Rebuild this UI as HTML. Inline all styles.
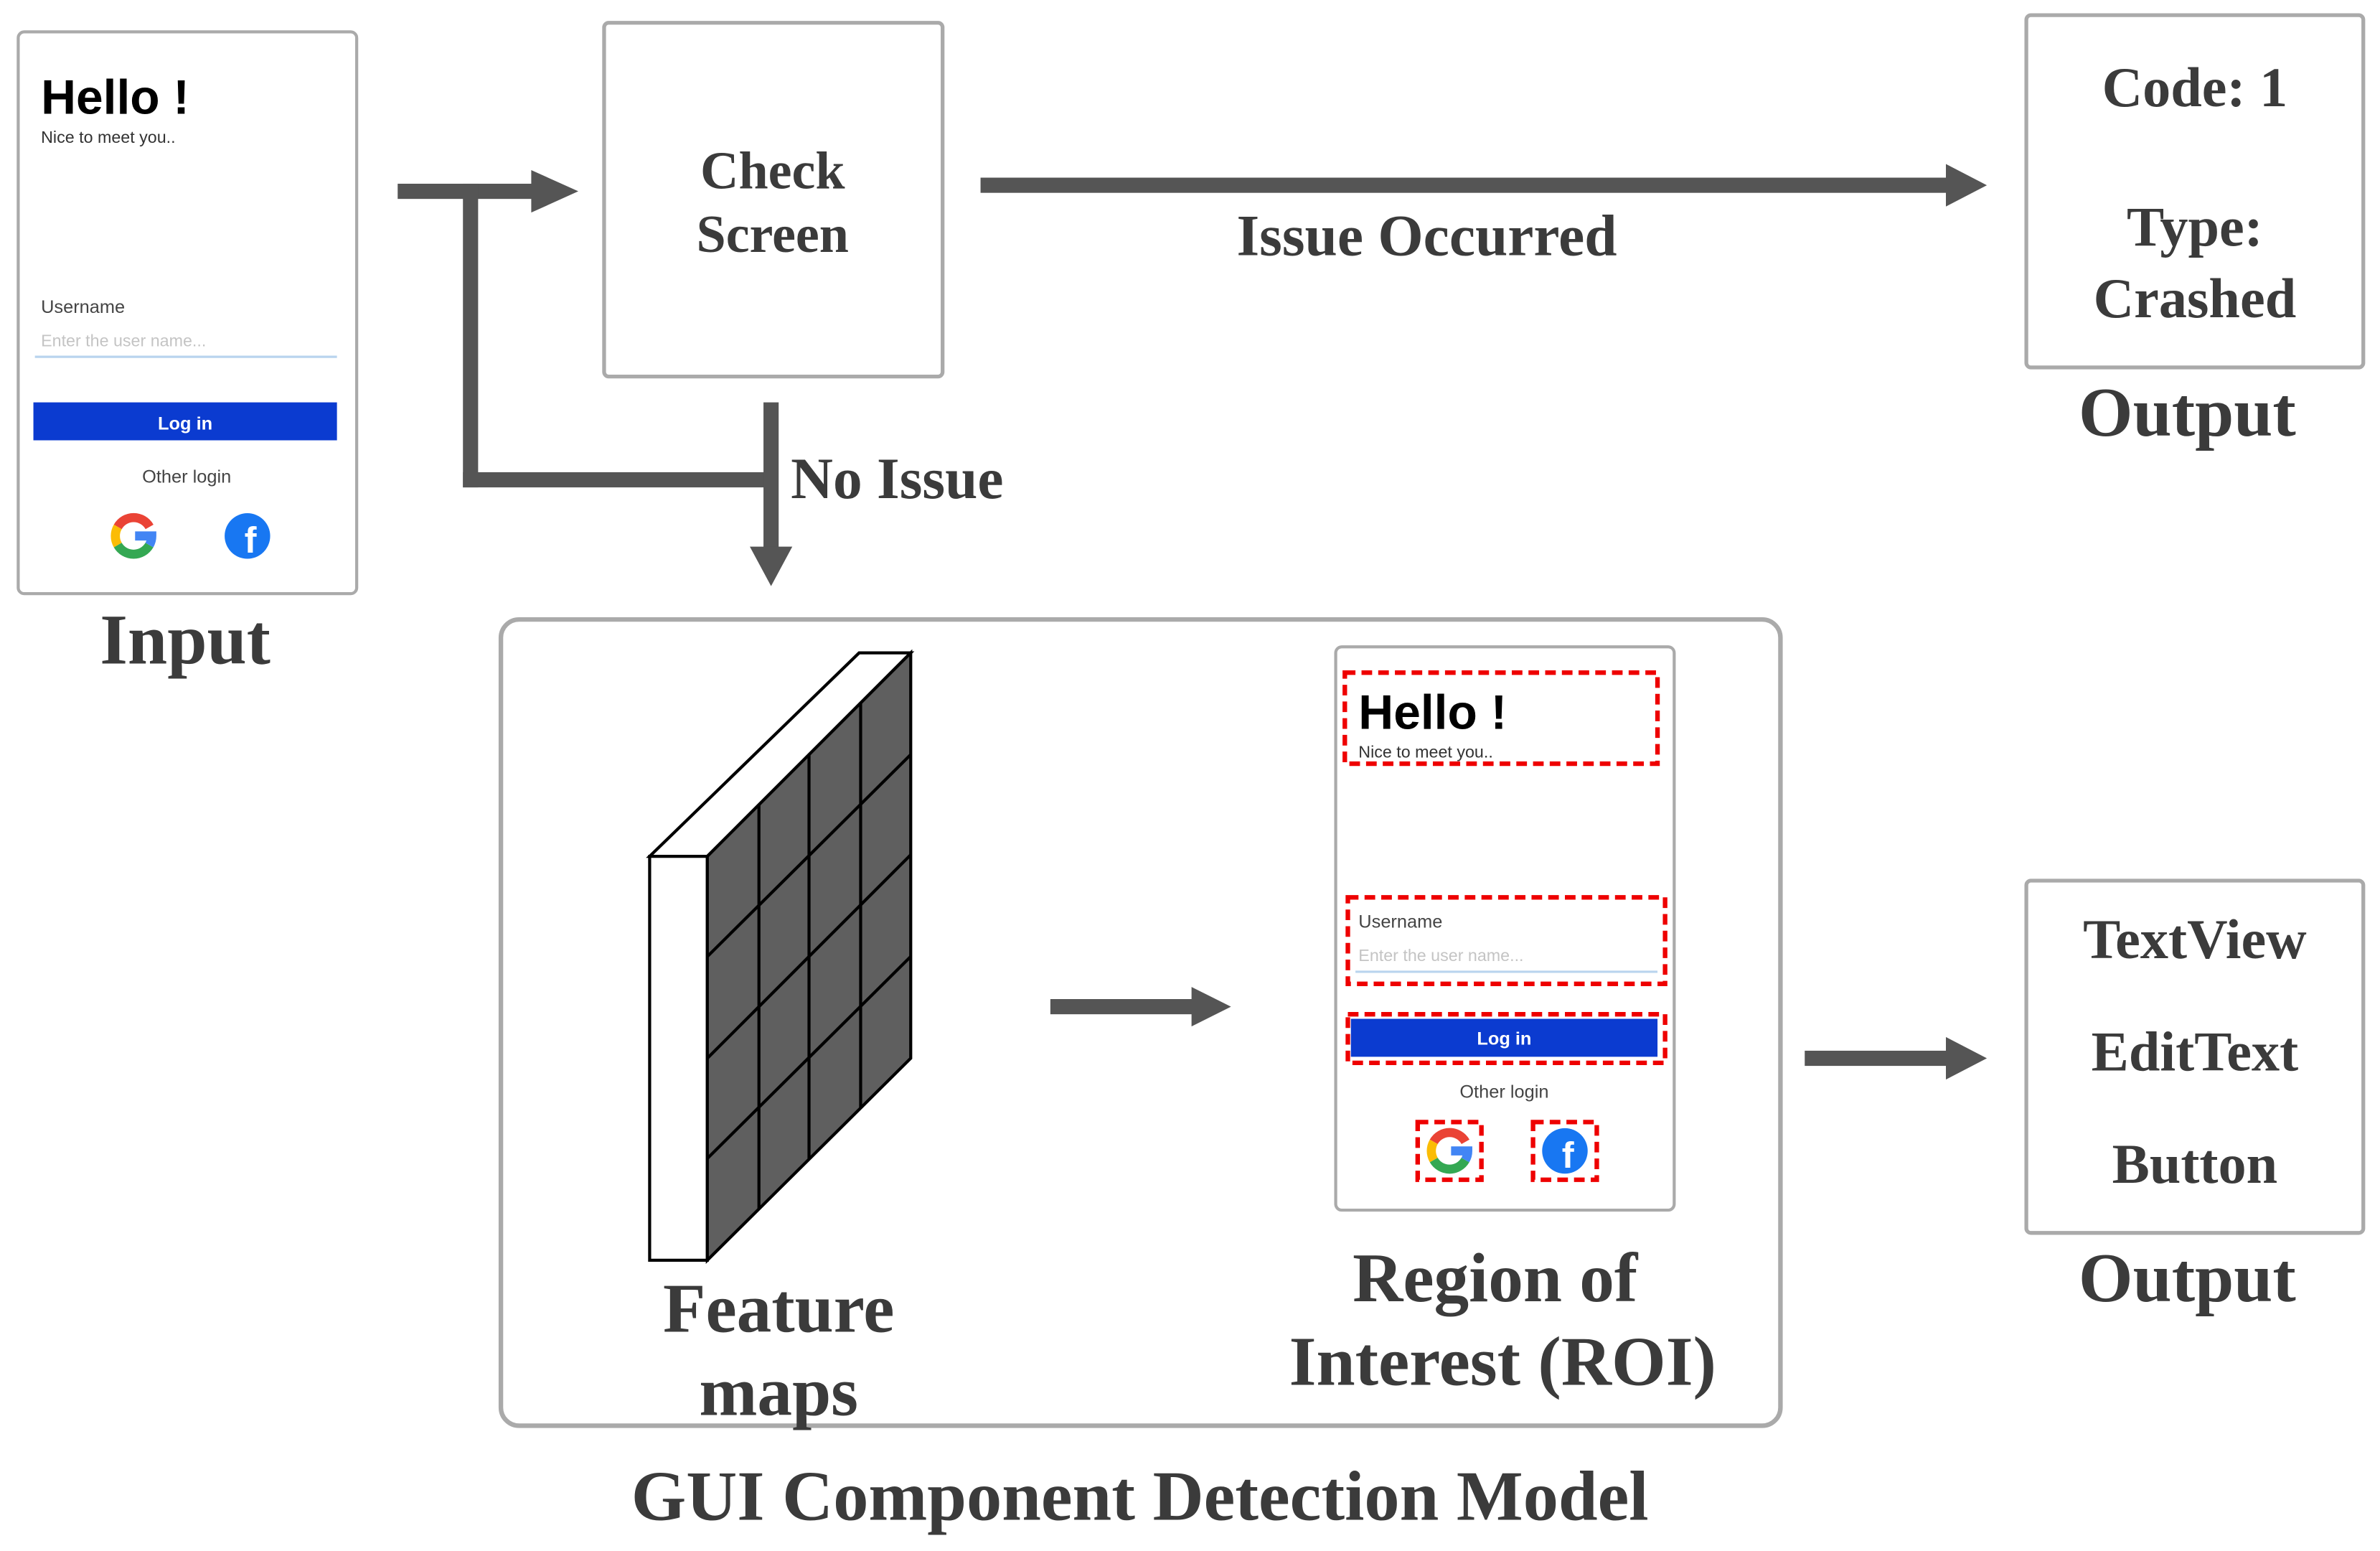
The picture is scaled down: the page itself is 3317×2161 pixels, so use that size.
<!DOCTYPE html>
<html><head><meta charset="utf-8"><style>
html,body{margin:0;padding:0;background:#fff;}
svg{display:block;}
.s{font-family:"Liberation Serif",serif;font-weight:bold;fill:#3b3b3b;}
.a{font-family:"Liberation Sans",sans-serif;}
</style></head><body>
<svg width="3317" height="2161" viewBox="0 0 1568 1021.5" preserveAspectRatio="none" xmlns="http://www.w3.org/2000/svg">
<defs>
<g id="goog">
<path d="M10.5,-6 A12,12 0 0 0 -10.4,-6" stroke="#ea4335" stroke-width="6" fill="none"/>
<path d="M-10.4,-6 A12,12 0 0 0 -10.4,6" stroke="#fbbc05" stroke-width="6" fill="none"/>
<path d="M-10.4,6 A12,12 0 0 0 10.4,6" stroke="#34a853" stroke-width="6" fill="none"/>
<path d="M10.4,6 A12,12 0 0 0 12,0 L1,0" stroke="#4285f4" stroke-width="6" fill="none"/>
</g>
<g id="fb">
<circle r="15" fill="#1877f2"/>
<text x="2" y="11" text-anchor="middle" font-family="Liberation Sans,sans-serif" font-weight="bold" font-size="24" fill="#fff">f</text>
</g>
</defs>
<rect width="1568" height="1021.5" fill="#fff"/>

<rect x="12" y="21" width="223" height="370" rx="4" fill="#fff" stroke="#aaa" stroke-width="2"/>
<text x="27" y="75" class="a" font-size="32" font-weight="bold" fill="#000">Hello !</text>
<text x="27" y="94" class="a" font-size="11" fill="#333">Nice to meet you..</text>
<text x="27" y="206" class="a" font-size="12" fill="#444">Username</text>
<text x="27" y="228" class="a" font-size="11" fill="#c4c4c4">Enter the user name...</text>
<line x1="23" y1="235" x2="222" y2="235" stroke="#b9d4ee" stroke-width="1.5"/>
<rect x="22" y="265" width="200" height="25" fill="#0b3bd0"/>
<text x="122" y="283" text-anchor="middle" class="a" font-size="12" font-weight="bold" fill="#fff">Log in</text>
<text x="123" y="318" text-anchor="middle" class="a" font-size="12" fill="#444">Other login</text>
<use href="#goog" x="88" y="353"/>
<use href="#fb" x="163" y="353"/>
<text x="122" y="437" text-anchor="middle" class="s" font-size="47">Input</text>

<g fill="#555">
<rect x="262" y="121" width="90" height="10"/>
<polygon points="350,112 381,126 350,140"/>
<rect x="305" y="121" width="10" height="200"/>
<rect x="305" y="311" width="205" height="10"/>
<rect x="503" y="265" width="10" height="97"/>
<polygon points="494,360 522,360 508,386"/>
<rect x="646" y="117" width="638" height="10"/>
<polygon points="1282,108 1309,122 1282,136"/>
<rect x="692" y="658" width="95" height="10"/>
<polygon points="785,650 811,663 785,676"/>
<rect x="1189" y="692" width="95" height="10"/>
<polygon points="1282,683 1309,697 1282,711"/>
</g>

<rect x="398" y="15" width="223" height="233" rx="3" fill="#fff" stroke="#aaa" stroke-width="2.5"/>
<text x="509" y="124" text-anchor="middle" class="s" font-size="35">Check</text>
<text x="509" y="166" text-anchor="middle" class="s" font-size="35">Screen</text>
<text x="940" y="168" text-anchor="middle" class="s" font-size="38.5">Issue Occurred</text>
<text x="521" y="328" class="s" font-size="38.5">No Issue</text>

<rect x="1335" y="10" width="222" height="232" rx="3" fill="#fff" stroke="#aaa" stroke-width="2.5"/>
<text x="1446" y="70" text-anchor="middle" class="s" font-size="37">Code: 1</text>
<text x="1446" y="162" text-anchor="middle" class="s" font-size="37">Type:</text>
<text x="1446" y="209" text-anchor="middle" class="s" font-size="37">Crashed</text>
<text x="1441" y="287" text-anchor="middle" class="s" font-size="46">Output</text>

<rect x="330" y="408" width="843" height="531" rx="12" fill="none" stroke="#aaa" stroke-width="3"/>

<g stroke="#000" stroke-width="2" stroke-linejoin="miter">
<polygon points="428,564 566,430 600,430 466,564" fill="#fff"/>
<rect x="428" y="564" width="38" height="266" fill="#fff"/>
<polygon points="466,564 600,430 600,697 466,830" fill="#5f5f5f"/>
<line x1="500" y1="530" x2="500" y2="796"/>
<line x1="533" y1="497" x2="533" y2="763"/>
<line x1="567" y1="463" x2="567" y2="730"/>
<line x1="466" y1="630" x2="600" y2="497"/>
<line x1="466" y1="697" x2="600" y2="563"/>
<line x1="466" y1="763" x2="600" y2="630"/>
</g>
<text x="513" y="877" text-anchor="middle" class="s" font-size="46">Feature</text>
<text x="513" y="932" text-anchor="middle" class="s" font-size="46">maps</text>

<rect x="880" y="426" width="223" height="371" rx="4" fill="#fff" stroke="#aaa" stroke-width="2"/>
<text x="895" y="480" class="a" font-size="32" font-weight="bold" fill="#000">Hello !</text>
<text x="895" y="499" class="a" font-size="11" fill="#333">Nice to meet you..</text>
<text x="895" y="611" class="a" font-size="12" fill="#444">Username</text>
<text x="895" y="633" class="a" font-size="11" fill="#c4c4c4">Enter the user name...</text>
<line x1="893" y1="640" x2="1092" y2="640" stroke="#b9d4ee" stroke-width="1.5"/>
<rect x="890" y="671" width="202" height="25" fill="#0b3bd0"/>
<text x="991" y="688" text-anchor="middle" class="a" font-size="12" font-weight="bold" fill="#fff">Log in</text>
<text x="991" y="723" text-anchor="middle" class="a" font-size="12" fill="#444">Other login</text>
<use href="#goog" x="955" y="758"/>
<use href="#fb" x="1031" y="758"/>
<g fill="none" stroke="#e00" stroke-width="3" stroke-dasharray="7,4">
<rect x="886" y="443" width="206" height="60"/>
<rect x="888" y="591" width="209" height="57"/>
<rect x="888" y="668" width="209" height="32"/>
<rect x="934" y="739" width="42" height="38"/>
<rect x="1010" y="739" width="42" height="38"/>
</g>
<text x="985" y="857" text-anchor="middle" class="s" font-size="46">Region of</text>
<text x="990" y="912" text-anchor="middle" class="s" font-size="46">Interest (ROI)</text>
<text x="751" y="1001" text-anchor="middle" class="s" font-size="46.5">GUI Component Detection Model</text>

<rect x="1335" y="580" width="222" height="232" rx="3" fill="#fff" stroke="#aaa" stroke-width="2.5"/>
<text x="1446" y="631" text-anchor="middle" class="s" font-size="37">TextView</text>
<text x="1446" y="705" text-anchor="middle" class="s" font-size="37">EditText</text>
<text x="1446" y="779" text-anchor="middle" class="s" font-size="37">Button</text>
<text x="1441" y="857" text-anchor="middle" class="s" font-size="46">Output</text>
</svg>
</body></html>
